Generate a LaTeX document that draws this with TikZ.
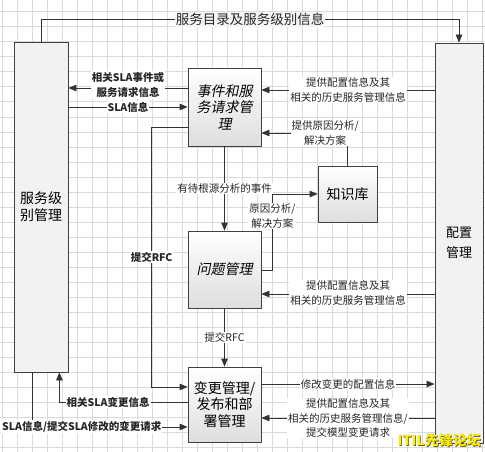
\documentclass[tikz,border=0pt]{standalone}
\usepackage{fontspec}
\setmainfont{Noto Sans CJK SC}
\newfontfamily\itcjk[FakeSlant=0.2]{Noto Sans CJK SC}
\usetikzlibrary{arrows.meta,shadows,calc}
\begin{document}
\begin{tikzpicture}[x=1pt,y=-1pt,
  gridline/.style={draw=black!14, line width=0.4pt},
  boxbase/.style={draw=black!75, line width=0.8pt, inner sep=0pt, align=center,
    drop shadow={opacity=0.18, shadow xshift=1.3pt, shadow yshift=-1.3pt}},
  box/.style={boxbase, top color=white, bottom color=black!13, font=\fontsize{14}{16.5}\selectfont},
  tallbox/.style={boxbase, fill=black!5},
  conn/.style={draw=black!80, line width=0.8pt, -{Triangle[length=8pt,width=6.5pt]}},
  lbl/.style={fill=white, inner sep=1pt, align=center, text=black!85, font=\fontsize{10.5}{15}\selectfont},
  blbl/.style={lbl, font=\fontsize{10.5}{15}\selectfont\bfseries},
  wm/.style={font=\fontsize{14}{14}\selectfont\bfseries, inner sep=0pt}
]
\useasboundingbox (0,0) rectangle (485,452);
\fill[white] (0,0) rectangle (485,452);
\foreach \x in {2,17,...,482} \draw[gridline] (\x,0) -- (\x,452);
\foreach \y in {11.7,26.7,...,450} \draw[gridline] (0,\y) -- (485,\y);

% boxes
\node[tallbox, minimum width=54pt, minimum height=330pt, font=\fontsize{14}{17}\selectfont] (slm) at (41,207) {服务级\\别管理};
\node[tallbox, minimum width=48pt, minimum height=400pt, font=\fontsize{13}{20}\selectfont] (cfg) at (459,243) {配置\\管理};
\node[box, minimum width=73pt, minimum height=78pt] (evt) at (224.5,107) {\itcjk 事件和服\\\itcjk 务请求管\\\itcjk 理};
\node[box, minimum width=59pt, minimum height=56pt] (kb) at (347.5,194) {知识库};
\node[box, minimum width=73pt, minimum height=77pt] (prb) at (224.5,269.5) {\itcjk 问题管理};
\node[box, minimum width=73pt, minimum height=75pt] (chg) at (224.5,404.5) {变更管理/\\发布和部\\署管理};

% connectors
\draw[conn] (slm.north) -- ++(0,-22) -| node[lbl, pos=0.25, fill=black!4, font=\fontsize{13.5}{16}\selectfont]{服务目录及服务级别信息} (cfg.north);
\draw[conn] (evt.west |- 0,88) -- node[blbl, yshift=3pt]{相关SLA事件或\\服务请求信息} (slm.east |- 0,88);
\draw[conn] (slm.east |- 0,107) -- node[blbl]{SLA信息} (evt.west |- 0,107);
\draw[conn] (cfg.west |- 0,90) -- node[lbl]{提供配置信息及其\\相关的历史服务管理信息} (evt.east |- 0,90);
\draw[conn] (kb.north) |- node[lbl, pos=0.63]{提供原因分析/\\解决方案} (evt.east |- 0,133);
\draw[conn] (evt.south) -- node[lbl]{有待根源分析的事件} (prb.north);
\draw[conn] (prb.east |- 0,270) -- ++(11,0) |- node[lbl, pos=0.355]{原因分析/\\解决方案} (kb.west |- 0,194);
\draw[conn] (evt.west |- 0,127) -- ++(-36,0) |- node[blbl, pos=0.25]{提交RFC} (chg.west |- 0,387);
\draw[conn] (cfg.west |- 0,294) -- node[lbl, yshift=1pt]{提供配置信息及其\\相关的历史服务管理信息} (prb.east |- 0,294);
\draw[conn] (prb.south) -- node[lbl]{提交RFC} (chg.north);
\draw[conn] (chg.east |- 0,384) -- node[lbl]{修改变更的配置信息} (cfg.west |- 0,384);
\draw[conn] (cfg.west |- 0,418) -- node[lbl, font=\fontsize{10.5}{14.5}\selectfont]{提供配置信息及其\\相关的历史服务管理信息/\\提交模型变更请求} (chg.east |- 0,418);
\draw[conn] (chg.west |- 0,402) -| node[blbl, pos=0.31]{相关SLA变更信息} ([xshift=-9pt]slm.south east);
\draw[conn] ([xshift=-9pt]slm.south) |- node[blbl, pos=0.66]{SLA信息/提交SLA修改的变更请求} (chg.west |- 0,427);

% watermark
\node[wm, text=black!65] (wmshadow) at (440,441) {ITIL先锋论坛};
\node[wm, text=yellow!95!orange] (wmtext) at (439.3,440.3) {ITIL先锋论坛};
\end{tikzpicture}
\end{document}
